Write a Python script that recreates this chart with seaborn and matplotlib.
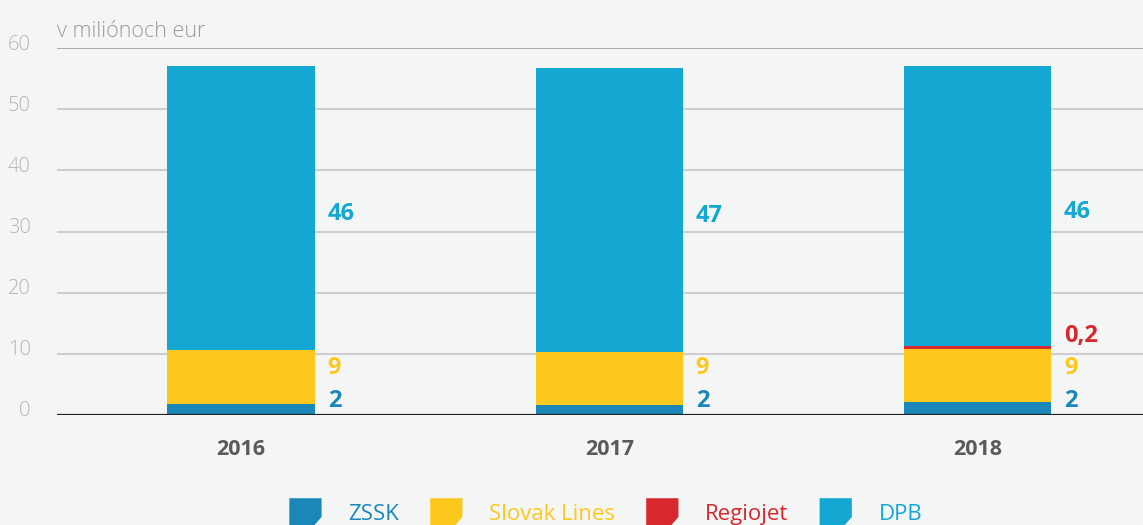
import numpy as np
import pandas as pd
import matplotlib
matplotlib.use("Agg")
import matplotlib.pyplot as plt
import matplotlib.transforms as mtransforms
from matplotlib.patches import Polygon
from matplotlib.legend_handler import HandlerPatch
import seaborn as sns

# data (millions of eur)
years = ["2016", "2017", "2018"]
zssk = [1.8, 1.7, 2.1]
slovak_lines = [8.8, 8.6, 8.7]
regiojet = [0.0, 0.0, 0.4]
dpb = [46.4, 46.4, 45.8]

zssk_labels = ["2", "2", "2"]
slovak_labels = ["9", "9", "9"]
regiojet_labels = ["", "", "0,2"]
dpb_labels = ["46", "47", "46"]

series = ["ZSSK", "Slovak Lines", "Regiojet", "DPB"]
colors = {"ZSSK": "#1a87b9", "Slovak Lines": "#fdc81e",
          "Regiojet": "#d7282f", "DPB": "#13a7d1"}
bg = "#f4f5f5"

sns.set_theme(style="white")
plt.rcParams["font.family"] = ["Open Sans", "DejaVu Sans"]

df = pd.DataFrame({"year": years, "ZSSK": zssk, "Slovak Lines": slovak_lines,
                   "Regiojet": regiojet, "DPB": dpb})
# cumulative tops, drawn largest first so smaller ones sit on top
cum = df[series].cumsum(axis=1)
cum["year"] = df["year"]

fig = plt.figure(figsize=(11.43, 5.25), dpi=100, facecolor=bg)
ax = fig.add_axes([57 / 1143, 110 / 525, 1 - 57 / 1143, 367 / 525])
ax.set_facecolor(bg)

bar_w = 0.40
for s in reversed(series):
    sns.barplot(data=cum, x="year", y=s, color=colors[s], width=bar_w,
                saturation=1, linewidth=0, edgecolor="none", ax=ax, zorder=3)

# grid lines
for v in range(10, 60, 10):
    ax.axhline(v, color="#cccccc", lw=1.4, zorder=1)
ax.axhline(60, color="#a9a9a9", lw=1.4, zorder=1)
ax.axhline(0, color="#222222", lw=1.6, zorder=4)

ax.set_ylim(0, 60)
ax.set_xlim(-0.5, 2.45)
ax.set_yticks(range(0, 61, 10))
ax.set_ylabel("")
ax.set_xlabel("")
for sp in ax.spines.values():
    sp.set_visible(False)
ax.tick_params(axis="y", length=0, pad=19, labelsize=14.5, labelcolor="#b3b3b3")
ax.tick_params(axis="x", length=0, pad=17, labelsize=15.5, labelcolor="#5a5a5a")
for lab in ax.get_xticklabels():
    lab.set_fontweight("bold")
offset = mtransforms.ScaledTranslation(0, 6 / 100, fig.dpi_scale_trans)
for lab in ax.get_yticklabels():
    lab.set_transform(lab.get_transform() + offset)
    lab.set_fontweight("light")

ax.text(-0.5, 61.0, "v miliónoch eur", fontsize=15.5, color="#9a9a9a",
        ha="left", va="bottom", fontweight="light")

# value labels to the right of the bars
label_y = {"ZSSK": 2.3, "Slovak Lines": 7.7, "Regiojet": 12.9}
label_txt = {"ZSSK": zssk_labels, "Slovak Lines": slovak_labels,
             "Regiojet": regiojet_labels, "DPB": dpb_labels}
lx = bar_w / 2 + 0.035
for i in range(len(years)):
    for s in series:
        t = label_txt[s][i]
        if not t:
            continue
        if s == "DPB":
            y = cum["Regiojet"][i] + dpb[i] / 2 - 0.9
        else:
            y = label_y[s]
        ax.text(i + lx, y, t, color=colors[s], fontsize=17, fontweight="bold",
                ha="left", va="center", zorder=5)


class CutCorner(HandlerPatch):
    # legend square with the lower right corner cut off
    def create_artists(self, legend, orig_handle, xdescent, ydescent,
                       width, height, fontsize, trans):
        x0, y0 = -xdescent, -ydescent - 0.1 * height
        h = height * 1.16
        pts = [(x0, y0), (x0, y0 + h), (x0 + width, y0 + h),
               (x0 + width, y0 + 0.45 * height), (x0 + 0.68 * width, y0)]
        p = Polygon(pts, closed=True, facecolor=orig_handle.get_facecolor(),
                    edgecolor="none", transform=trans)
        return [p]


handles = [plt.Rectangle((0, 0), 1, 1, facecolor=colors[s]) for s in series]
leg = fig.legend(handles, series, loc="center", bbox_to_anchor=(0.53, 12 / 525),
                 ncol=4, frameon=False, fontsize=16, handlelength=1.45,
                 handleheight=1.45, handletextpad=1.2, columnspacing=1.4,
                 borderpad=0, borderaxespad=0,
                 handler_map={plt.Rectangle: CutCorner()})
for txt, s in zip(leg.get_texts(), series):
    txt.set_color(colors[s])

fig.savefig("out.png", dpi=100, facecolor=bg)
